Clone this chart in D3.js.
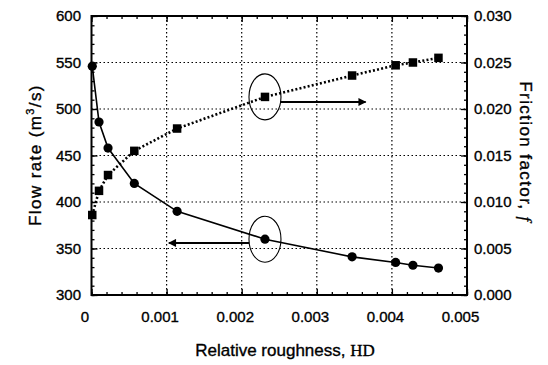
<!DOCTYPE html>
<html>
<head>
<meta charset="utf-8">
<script src="https://cdn.jsdelivr.net/npm/d3@7"></script>
<style>
  body { margin: 0; background: #fff; }
  text { font-family: "Liberation Sans", Arial, sans-serif; fill: #000; stroke: #000; stroke-width: 0.35px; }
</style>
</head>
<body>
<script>
// relative roughness values shared by both series
const roughness = [0.00001, 0.0001, 0.00022, 0.00057, 0.00114, 0.00231, 0.00347, 0.00405, 0.00428, 0.00462];
const flowRate = [546, 486, 458, 420, 390, 360, 341, 335, 332, 329];
const frictionFactor = [0.0086, 0.0112, 0.0129, 0.0155, 0.0179, 0.0213, 0.0236, 0.0247, 0.0250, 0.0255];

const xTicks = [0, 0.001, 0.002, 0.003, 0.004, 0.005];
const yLeftTicks = [300, 350, 400, 450, 500, 550, 600];
const yRightTicks = [0, 0.005, 0.010, 0.015, 0.020, 0.025, 0.030];

// callouts: ellipse around a point + arrow toward its axis
const calloutIndex = 5;
const frictionArrow = { y: 0.02075, x0: 0.00251, x1: 0.00365 };
const flowArrow = { y: 356, x0: 0.00210, x1: 0.00103 };

const width = 548;
const height = 365;
const pLeft = 91.5, pRight = 467, pTop = 16, pBottom = 295;

const svg = d3.select('body').append('svg')
  .attr('width', width)
  .attr('height', height);

const x = d3.scaleLinear().domain([0, 0.005]).range([pLeft, pRight]);
const yL = d3.scaleLinear().domain([300, 600]).range([pBottom, pTop]);
const yR = d3.scaleLinear().domain([0, 0.03]).range([pBottom, pTop]);

// dotted grid at the inner major ticks
const grid = svg.append('g')
  .attr('stroke', '#000')
  .attr('stroke-width', 1.2)
  .attr('stroke-dasharray', '1.5,2.5');
grid.selectAll('.gx').data(xTicks.slice(1, -1)).join('line')
  .attr('x1', d => x(d)).attr('x2', d => x(d))
  .attr('y1', pTop).attr('y2', pBottom);
grid.selectAll('.gy').data(yLeftTicks.slice(1, -1)).join('line')
  .attr('x1', pLeft).attr('x2', pRight)
  .attr('y1', d => yL(d)).attr('y2', d => yL(d));

// axes, ticks pointing inward
const fmtX = d => d === 0 ? '0' : d3.format('.3f')(d);
const minorX = d3.range(0, 0.00501, 0.0002);
const minorL = d3.range(300, 601, 10);
const minorR = d3.range(0, 0.0301, 0.001);

function styleAxis(g) {
  g.select('.domain').remove();
  g.selectAll('line').attr('stroke', '#000').attr('stroke-width', 1.3);
  g.selectAll('text').style('font-size', '15px').attr('fill', '#000');
}

svg.append('g').attr('transform', `translate(0,${pBottom})`)
  .call(d3.axisBottom(x).tickValues(minorX).tickSize(-3).tickFormat(''))
  .call(styleAxis);
svg.append('g').attr('transform', `translate(0,${pBottom})`)
  .call(d3.axisBottom(x).tickValues(xTicks).tickSize(-6).tickPadding(16).tickFormat(fmtX))
  .call(styleAxis)
  .call(g => g.selectAll('text').attr('dx', -7));
svg.append('g').attr('transform', `translate(0,${pTop})`)
  .call(d3.axisTop(x).tickValues(minorX).tickSize(-3).tickFormat(''))
  .call(styleAxis);
svg.append('g').attr('transform', `translate(0,${pTop})`)
  .call(d3.axisTop(x).tickValues(xTicks).tickSize(-6).tickFormat(''))
  .call(styleAxis);

svg.append('g').attr('transform', `translate(${pLeft},0)`)
  .call(d3.axisLeft(yL).tickValues(minorL).tickSize(-3).tickFormat(''))
  .call(styleAxis);
svg.append('g').attr('transform', `translate(${pLeft},0)`)
  .call(d3.axisLeft(yL).tickValues(yLeftTicks).tickSize(-6).tickPadding(10.5).tickFormat(d3.format('d')))
  .call(styleAxis);

svg.append('g').attr('transform', `translate(${pRight},0)`)
  .call(d3.axisRight(yR).tickValues(minorR).tickSize(-3).tickFormat(''))
  .call(styleAxis);
svg.append('g').attr('transform', `translate(${pRight},0)`)
  .call(d3.axisRight(yR).tickValues(yRightTicks).tickSize(-6).tickPadding(7).tickFormat(d3.format('.3f')))
  .call(styleAxis);

// frame
svg.append('rect')
  .attr('x', pLeft).attr('y', pTop)
  .attr('width', pRight - pLeft).attr('height', pBottom - pTop)
  .attr('fill', 'none').attr('stroke', '#000').attr('stroke-width', 2);

// flow rate: solid line with circles
const flowData = roughness.map((r, i) => [r, flowRate[i]]);
svg.append('path').datum(flowData)
  .attr('fill', 'none').attr('stroke', '#000').attr('stroke-width', 1.6)
  .attr('d', d3.line().x(d => x(d[0])).y(d => yL(d[1])));
svg.selectAll('.flowpt').data(flowData).join('circle')
  .attr('cx', d => x(d[0])).attr('cy', d => yL(d[1]))
  .attr('r', 4.6).attr('fill', '#000');

// friction factor: dotted line with squares
const fricData = roughness.map((r, i) => [r, frictionFactor[i]]);
svg.append('path').datum(fricData)
  .attr('fill', 'none').attr('stroke', '#000').attr('stroke-width', 2.6)
  .attr('stroke-dasharray', '2,2.2')
  .attr('d', d3.line().x(d => x(d[0])).y(d => yR(d[1])));
const sq = 8.5;
svg.selectAll('.fricpt').data(fricData).join('rect')
  .attr('x', d => x(d[0]) - sq / 2).attr('y', d => yR(d[1]) - sq / 2)
  .attr('width', sq).attr('height', sq).attr('fill', '#000');

// callouts
svg.append('defs').append('marker')
  .attr('id', 'head').attr('viewBox', '0 0 10 10')
  .attr('refX', 9).attr('refY', 5)
  .attr('markerWidth', 11).attr('markerHeight', 8)
  .attr('markerUnits', 'userSpaceOnUse')
  .attr('orient', 'auto')
  .append('path').attr('d', 'M0,0 L10,5 L0,10 Z').attr('fill', '#000');

const cx = x(roughness[calloutIndex]);
[[cx, yR(frictionFactor[calloutIndex])], [cx, yL(flowRate[calloutIndex])]].forEach(([ex, ey]) => {
  svg.append('ellipse')
    .attr('cx', ex).attr('cy', ey).attr('rx', 16).attr('ry', 23)
    .attr('fill', 'none').attr('stroke', '#000').attr('stroke-width', 1.1);
});
[[frictionArrow, yR], [flowArrow, yL]].forEach(([a, ys]) => {
  svg.append('line')
    .attr('x1', x(a.x0)).attr('x2', x(a.x1))
    .attr('y1', ys(a.y)).attr('y2', ys(a.y))
    .attr('stroke', '#000').attr('stroke-width', 2)
    .attr('marker-end', 'url(#head)');
});

// axis titles
svg.append('text')
  .attr('x', 285).attr('y', 356)
  .attr('text-anchor', 'middle')
  .style('font-size', '17px')
  .text('Relative roughness,  ')
  .append('tspan')
  .style('font-family', '"Liberation Serif", serif')
  .text('HD');

const yt = svg.append('text')
  .attr('transform', `translate(41,155) rotate(-90)`)
  .attr('text-anchor', 'middle')
  .style('font-size', '17px')
  .style('letter-spacing', '1.4px');
yt.append('tspan').text('Flow rate (m');
yt.append('tspan').attr('dy', -7).style('font-size', '11px').text('3');
yt.append('tspan').attr('dy', 7).text('/s)');

const rt = svg.append('text')
  .attr('transform', `translate(520,152) rotate(90)`)
  .attr('text-anchor', 'middle')
  .style('font-size', '17px')
  .style('letter-spacing', '1.4px');
rt.append('tspan').text('Friction factor,  ');
rt.append('tspan')
  .style('font-family', '"Liberation Serif", serif')
  .style('font-style', 'italic')
  .text('f');
</script>
</body>
</html>
